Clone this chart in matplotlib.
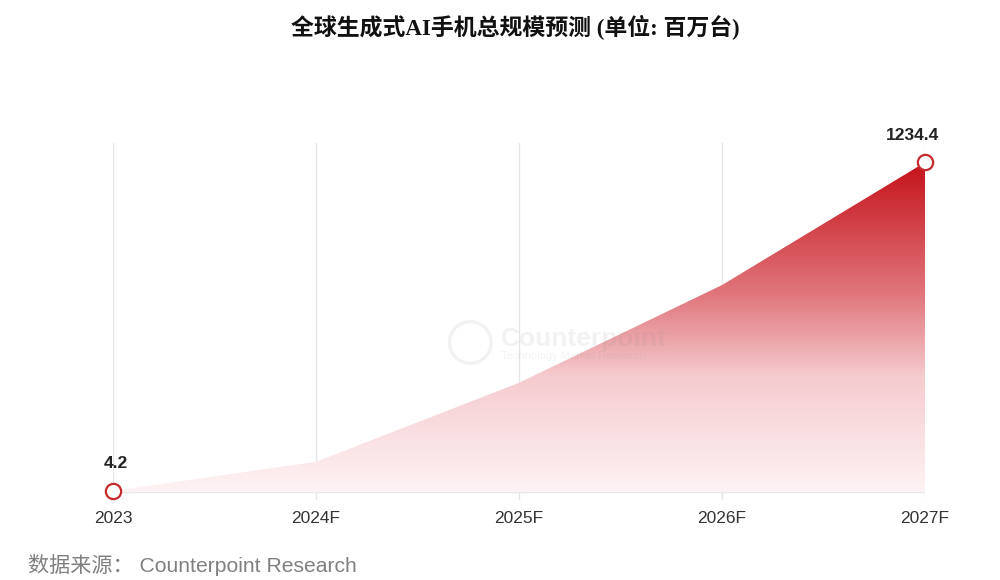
import matplotlib
matplotlib.use("Agg")
import matplotlib.pyplot as plt
import numpy as np
from matplotlib.colors import LinearSegmentedColormap

plt.rcParams['font.family'] = ['Liberation Sans', 'Noto Sans CJK SC', 'DejaVu Sans']

years = ['2023', '2024F', '2025F', '2026F', '2027F']
shipments = [4.2, 113, 409, 775, 1234.4]  # 百万台
labelled = [0, 4]  # 只标注首尾两个点
label_dx = {0: 2, 4: -9}  # 标签水平偏移(pt)

fig = plt.figure(figsize=(10, 5.8), dpi=100)
ax = fig.add_axes([0.113, 0.1379, 0.812, 0.6155])

x = np.arange(len(years))
y = np.array(shipments)
ymax = 1307
ax.set_xlim(0, 4)
ax.set_ylim(-30, ymax)

# 竖向网格线
for xi in x:
    ax.axvline(xi, color='#e6e6e6', lw=1, zorder=0)
ax.axhline(0, color='#e8e8e8', lw=1, zorder=0)

# 渐变填充 (上深下浅)
cmap = LinearSegmentedColormap.from_list('red_grad', [
    (0.0, '#fef3f4'), (0.35, '#f5cbcf'), (0.6, '#e0767c'),
    (0.85, '#cf373e'), (1.0, '#c5121a')])
grad = np.linspace(0, 1, 256).reshape(-1, 1)
poly = ax.fill_between(x, 0, y, color='none', lw=0)
img = ax.imshow(grad, cmap=cmap, aspect='auto', origin='lower',
                extent=[0, 4, 0, y.max()], zorder=1, vmin=0, vmax=1)
img.set_clip_path(poly.get_paths()[0], transform=ax.transData)

# 水印
wm = dict(color='#888888', alpha=0.1, zorder=3)
ax.scatter([1.76], [560], s=900, facecolor='none', edgecolor='#888888', lw=2.5,
           alpha=0.1, zorder=3)
ax.text(1.91, 572, 'Counterpoint', fontsize=19, fontweight='bold', va='center', ha='left', **wm)
ax.text(1.91, 508, 'Technology Market Research', fontsize=8, va='center', ha='left', **wm)

# 端点标记和数值
for i in labelled:
    ax.plot(x[i], y[i], 'o', ms=11, mfc='white', mec='#c42a2e', mew=1.6,
            zorder=5, clip_on=False)
    ax.annotate(f'{y[i]:g}', (x[i], y[i]), xytext=(label_dx[i], 14), textcoords='offset points',
                ha='center', va='bottom', fontsize=12.5, fontweight='bold', color='#222222')

ax.set_xticks(x)
ax.set_xticklabels(years, fontsize=12.5, color='#333333')
ax.tick_params(axis='x', length=0, pad=8)
ax.set_yticks([])
for s in ax.spines.values():
    s.set_visible(False)

fig.text(0.515, 0.952, '全球生成式AI手机总规模预测 (单位: 百万台)', ha='center', va='center',
         fontsize=16.5, fontweight='bold', color='#111111',
         family=['Liberation Serif', 'Noto Sans CJK SC'])
fig.text(0.028, 0.026, '数据来源： Counterpoint Research', ha='left', va='center',
         fontsize=15.2, color='#808080', family=['Liberation Sans', 'Noto Sans CJK SC'])

fig.savefig('out.png', dpi=100)
